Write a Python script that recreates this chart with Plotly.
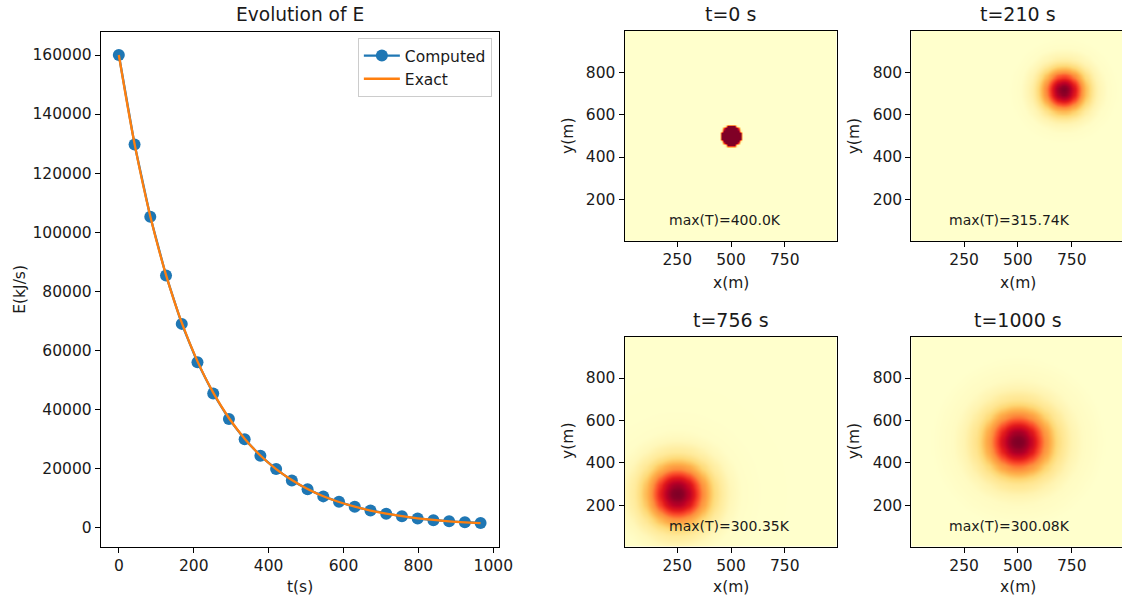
import numpy as np
import plotly.graph_objects as go

# ---------------- data: energy evolution ----------------
t_s = [0, 42, 84, 126, 168, 210, 252, 294, 336, 378, 420, 462,
       504, 546, 588, 630, 672, 714, 756, 798, 840, 882, 924, 966]
E_computed = [160000, 129700, 105200, 85300, 68900, 55900, 45300, 36700,
              29800, 24200, 19700, 15800, 12900, 10450, 8600, 6900,
              5700, 4600, 3700, 2950, 2400, 2000, 1700, 1450]
E_exact = [160000, 129900, 105400, 85500, 69300, 56200, 45600, 37000,
           30000, 24300, 19700, 16000, 12950, 10500, 8550, 6950,
           5650, 4600, 3730, 3030, 2460, 2000, 1650, 1380]

# ---------------- data: temperature fields (radial profiles) ----------------
panel_titles = ["t=0 s", "t=210 s", "t=756 s", "t=1000 s"]
panel_max_labels = ["max(T)=400.0K", "max(T)=315.74K", "max(T)=300.35K", "max(T)=300.08K"]
centers_x = [500, 712, 250, 500]
centers_y = [500, 715, 255, 500]
radii_0 = [0, 48, 52, 1500]
temps_0 = [400.0, 400.0, 300.0, 300.0]
radii_210 = [0, 20, 40, 60, 80, 100, 120, 140, 160, 200, 250, 1500]
temps_210 = [315.74, 315.11, 313.38, 310.86, 308.18, 305.67, 303.62, 302.12, 301.15, 300.27, 300.03, 300.0]
radii_756 = [0, 25, 50, 75, 100, 125, 150, 175, 200, 250, 300, 400, 1500]
temps_756 = [300.350, 300.340, 300.310, 300.266, 300.214, 300.161, 300.116, 300.077,
             300.049, 300.018, 300.005, 300.001, 300.0]
radii_1000 = [0, 25, 50, 75, 100, 125, 150, 175, 200, 250, 300, 400, 1500]
temps_1000 = [300.080, 300.078, 300.072, 300.062, 300.051, 300.040, 300.030, 300.021,
              300.014, 300.0064, 300.0025, 300.0004, 300.0]
profiles = [(radii_0, temps_0), (radii_210, temps_210), (radii_756, temps_756), (radii_1000, temps_1000)]
grid_x = np.arange(5, 1000, 10)
grid_y = np.arange(5, 1000, 10)

# ---------------- styling ----------------
W, H = 1136, 602
FONT = "DejaVu Sans"
TXT = "#1a1a1a"
ylorrd = [[0.0, "#ffffcc"], [0.125, "#ffeda0"], [0.25, "#fed976"], [0.375, "#feb24c"],
          [0.5, "#fd8d3c"], [0.625, "#fc4e2a"], [0.75, "#e31a1c"], [0.875, "#bd0026"],
          [1.0, "#800026"]]


def fx(px):
    return px / W


def fy(py):
    return 1 - py / H


fig = go.Figure()

# left line chart
fig.add_trace(go.Scatter(x=t_s, y=E_computed, mode="lines+markers", name="Computed",
                         line=dict(color="#1f77b4", width=2.3),
                         marker=dict(color="#1f77b4", size=12),
                         xaxis="x", yaxis="y"))
fig.add_trace(go.Scatter(x=t_s, y=E_exact, mode="lines", name="Exact",
                         line=dict(color="#ff7f0e", width=2.3, shape="spline"),
                         xaxis="x", yaxis="y"))

# heatmaps
X, Y = np.meshgrid(grid_x, grid_y)
for i, (rad, tmp) in enumerate(profiles):
    r = np.hypot(X - centers_x[i], Y - centers_y[i])
    field = np.interp(r, rad, tmp)
    k = i + 2
    fig.add_trace(go.Heatmap(x=grid_x, y=grid_y, z=field, colorscale=ylorrd,
                             showscale=False, zsmooth="best",
                             xaxis=f"x{k}", yaxis=f"y{k}", hoverinfo="skip"))

axis_common = dict(showline=True, linecolor="#000000", linewidth=1, ticks="outside",
                   ticklen=5, tickwidth=1, tickcolor="#000000", showgrid=False,
                   zeroline=False, tickfont=dict(family=FONT, size=15.5, color=TXT))

layout = dict(
    width=W, height=H, autosize=False, margin=dict(l=0, r=0, t=0, b=0),
    paper_bgcolor="white", plot_bgcolor="white",
    font=dict(family=FONT, size=15.5, color=TXT),
    showlegend=True,
    legend=dict(x=fx(498), y=fy(38), xanchor="right", yanchor="top",
                bgcolor="rgba(255,255,255,0.8)", bordercolor="#cccccc", borderwidth=1,
                font=dict(family=FONT, size=15.5, color=TXT), itemwidth=36,
                tracegroupgap=2),
    xaxis=dict(domain=[fx(102), fx(505)], range=[-48.3, 1014.6], tickvals=[0, 200, 400, 600, 800, 1000],
               mirror=True, anchor="y", **axis_common),
    yaxis=dict(domain=[fy(546.7), fy(31.7)], range=[-6600, 167900],
               tickvals=list(range(0, 160001, 20000)), tickformat="d",
               mirror=True, anchor="x", **axis_common),
)

left_px = [632.3, 922.7, 632.3, 922.7]
top_px = [31.0, 31.0, 336.7, 336.7]
bot_px = [240.7, 240.7, 546.7, 546.7]
scale_x = 0.218
for i in range(4):
    k = i + 2
    if i in (0, 2):
        xr = [5, 992]
        right_px = 847.3
        ymirror = True
    else:
        xr = [5, 5 + (W - left_px[i]) / scale_x]
        right_px = W
        ymirror = False
    layout[f"xaxis{k}"] = dict(domain=[fx(left_px[i]), fx(right_px)], range=xr,
                               tickvals=[250, 500, 750], anchor=f"y{k}", mirror=True,
                               **axis_common)
    layout[f"yaxis{k}"] = dict(domain=[fy(bot_px[i]), fy(top_px[i])], range=[5, 995],
                               tickvals=[200, 400, 600, 800], anchor=f"x{k}",
                               mirror=ymirror, **axis_common)

fig.update_layout(**layout)

ann = []
# titles
ann.append(dict(text="Evolution of E", x=fx(303.5), y=fy(15), xref="paper", yref="paper",
                showarrow=False, font=dict(family=FONT, size=18.6, color=TXT),
                xanchor="center", yanchor="middle"))
title_cx = [739.8, 1030.8, 739.8, 1030.8]
title_cy = [14, 14, 320, 320]
for i in range(4):
    ann.append(dict(text=panel_titles[i], x=fx(title_cx[i]), y=fy(title_cy[i]), xref="paper",
                    yref="paper", showarrow=False, font=dict(family=FONT, size=19, color=TXT),
                    xanchor="center", yanchor="middle"))
# axis labels
ann.append(dict(text="t(s)", x=fx(303.5), y=fy(587), xref="paper", yref="paper", showarrow=False,
                font=dict(family=FONT, size=15.5, color=TXT), xanchor="center", yanchor="middle"))
ann.append(dict(text="E(kJ/s)", x=fx(20), y=fy(289), xref="paper", yref="paper", showarrow=False,
                textangle=-90, font=dict(family=FONT, size=15.5, color=TXT),
                xanchor="center", yanchor="middle"))
xl_cy = [283, 283, 587, 587]
yl_cx = [575, 865, 575, 865]
yl_cy = [136, 136, 441, 441]
for i in range(4):
    ann.append(dict(text="x(m)", x=fx(title_cx[i]), y=fy(xl_cy[i]), xref="paper", yref="paper",
                    showarrow=False, font=dict(family=FONT, size=15.5, color=TXT),
                    xanchor="center", yanchor="middle"))
    ann.append(dict(text="y(m)", x=fx(yl_cx[i]), y=fy(yl_cy[i]), xref="paper", yref="paper",
                    showarrow=False, textangle=-90, font=dict(family=FONT, size=15.5, color=TXT),
                    xanchor="center", yanchor="middle"))
# max(T) labels
mx_cx = [734, 1022.3, 738.5, 1022.3]
mx_cy = [220, 220, 526, 526]
for i in range(4):
    ann.append(dict(text=panel_max_labels[i], x=fx(mx_cx[i]), y=fy(mx_cy[i]), xref="paper",
                    yref="paper", showarrow=False, font=dict(family=FONT, size=14, color=TXT),
                    xanchor="center", yanchor="middle"))
fig.update_layout(annotations=ann)

post = """
document.body.style.margin='0px';
document.documentElement.style.overflow='hidden';
document.body.style.overflow='hidden';
"""

fig.write_html("out.html",
               config={"responsive": False, "displayModeBar": False},
               default_width="1136px", default_height="602px",
               post_script=post)
